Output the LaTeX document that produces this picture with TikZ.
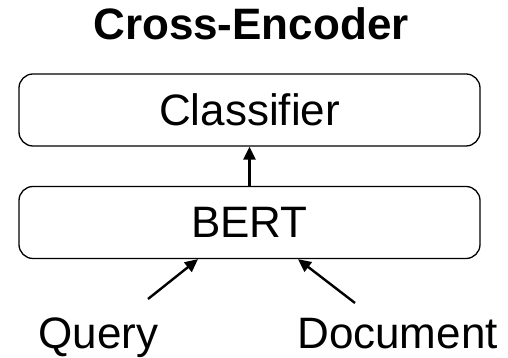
\documentclass[tikz,border=0pt]{standalone}
\usepackage{fontspec}
\setmainfont{Liberation Sans}
\usetikzlibrary{arrows.meta, calc}
\tikzstyle{block} = [rectangle, rounded corners=14pt, draw=black, line width=1.3pt, minimum width=461pt, minimum height=72pt, font=\fontsize{44}{50}\selectfont]
\tikzstyle{inputtext} = [anchor=base, inner sep=0pt, font=\fontsize{44}{50}\selectfont]
\tikzstyle{arrow} = [line width=2.4pt, -{Triangle[length=13pt,width=12pt]}]

\begin{document}
\begin{tikzpicture}

        \useasboundingbox (0,0) rectangle (508pt,358pt);

        \node (title) [inputtext, font=\fontsize{44}{50}\selectfont\bfseries]
            at (251pt,318pt) {Cross-Encoder} ;

        \node (clf) [block] at (249.5pt,248pt) {Classifier} ;
        \node (bert) [block, below of=clf, node distance=112.5pt] {BERT} ;

        % inputs under the encoder
        \node (query) [inputtext] at (98.5pt,9.5pt) {Query} ;
        \node (doc) [inputtext] at (397.5pt,9.5pt) {Document} ;

        % arrows
        \draw [arrow] ($(query.base)+(49.5pt,49.5pt)$) -- ($(bert.south)+(-51.5pt,0)$) ;
        \draw [arrow] ($(doc.base)+(-42.5pt,45.5pt)$) -- ($(bert.south)+(48.5pt,0)$) ;
        \draw [arrow] (bert.north) -- (clf.south) ;

    \end{tikzpicture}
\end{document}
